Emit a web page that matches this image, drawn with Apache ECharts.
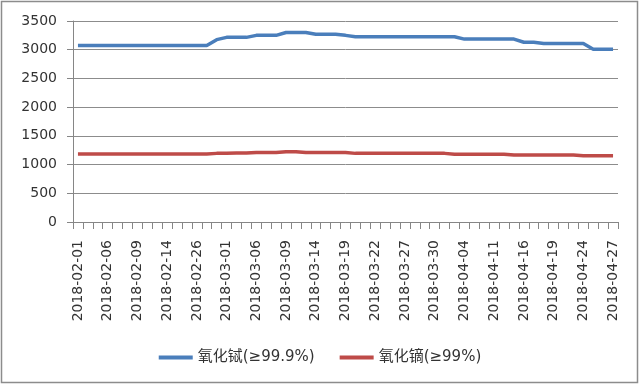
<!DOCTYPE html>
<html>
<head>
<meta charset="utf-8">
<script src="https://cdn.jsdelivr.net/npm/echarts@6/dist/echarts.min.js"></script>
<style>
html,body{margin:0;padding:0;background:#fff;}
#chart{width:640px;height:385px;}
</style>
</head>
<body>
<div id="chart"></div>
<script>
const dates = ['2018-02-01','2018-02-02','2018-02-05','2018-02-06','2018-02-07','2018-02-08','2018-02-09','2018-02-12','2018-02-13','2018-02-14','2018-02-22','2018-02-23','2018-02-26','2018-02-27','2018-02-28','2018-03-01','2018-03-02','2018-03-05','2018-03-06','2018-03-07','2018-03-08','2018-03-09','2018-03-12','2018-03-13','2018-03-14','2018-03-15','2018-03-16','2018-03-19','2018-03-20','2018-03-21','2018-03-22','2018-03-23','2018-03-26','2018-03-27','2018-03-28','2018-03-29','2018-03-30','2018-04-02','2018-04-03','2018-04-04','2018-04-09','2018-04-10','2018-04-11','2018-04-12','2018-04-13','2018-04-16','2018-04-17','2018-04-18','2018-04-19','2018-04-20','2018-04-23','2018-04-24','2018-04-25','2018-04-26','2018-04-27'];

const seriesNames = ['氧化铽(≥99.9%)', '氧化镝(≥99%)'];

const terbium = [3075,3075,3075,3075,3075,3075,3075,3075,3075,3075,3075,3075,3075,3075,
  3175,3215,3215,3215,3250,3250,3250,3300,3300,3300,3270,3270,3270,3250,
  3225,3225,3225,3225,3225,3225,3225,3225,3225,3225,3225,
  3185,3185,3185,3185,3185,3185,3130,3130,3110,3110,3110,3110,3110,3010,3010,3010];

const dysprosium = [1185,1185,1185,1185,1185,1185,1185,1185,1185,1185,1185,1185,1185,1185,
  1195,1195,1200,1200,1210,1210,1210,1225,1225,1210,1210,1210,1210,1210,
  1195,1195,1195,1195,1195,1195,1195,1195,1195,1195,
  1180,1180,1180,1180,1180,1180,1165,1165,1165,1165,1165,1165,1165,1155,1155,1155,1155];

const yTicks = {min: 0, max: 3500, interval: 500};

const chart = echarts.init(document.getElementById('chart'), null, {renderer: 'canvas'});
const fontFam = '"DejaVu Sans", "Noto Sans CJK SC", sans-serif';
chart.setOption({
  animation: false,
  backgroundColor: '#ffffff',
  graphic: [{
    type: 'rect',
    shape: {x: 1.5, y: 1.5, width: 636, height: 381},
    style: {fill: 'none', stroke: '#8c8c8c', lineWidth: 1.5},
    silent: true
  }],
  grid: {left: 73, right: 22, top: 21, height: 201, containLabel: false},
  legend: {
    data: seriesNames,
    left: 'center',
    top: 345,
    icon: 'rect',
    itemWidth: 34,
    itemHeight: 4,
    itemGap: 25,
    textStyle: {fontFamily: fontFam, fontSize: 15, color: '#333'}
  },
  xAxis: {
    type: 'category',
    data: dates,
    boundaryGap: true,
    axisLine: {lineStyle: {color: '#868686', width: 1}},
    axisTick: {show: true, interval: 0, length: 7, lineStyle: {color: '#868686'}},
    axisLabel: {interval: 2, rotate: 90, margin: 18, fontFamily: fontFam, fontSize: 14, color: '#333'},
    splitLine: {show: false}
  },
  yAxis: {
    type: 'value',
    min: yTicks.min, max: yTicks.max, interval: yTicks.interval,
    axisLine: {show: true, lineStyle: {color: '#868686', width: 1}},
    axisTick: {show: true, length: 6, lineStyle: {color: '#868686'}},
    axisLabel: {margin: 16, fontFamily: fontFam, fontSize: 14, color: '#333', formatter: function (v) { return String(v); }},
    splitLine: {show: true, lineStyle: {color: '#8c8c8c', width: 1}}
  },
  series: [
    {name: seriesNames[0], type: 'line', data: terbium, symbol: 'none', smooth: false,
     lineStyle: {color: '#4A7EBB', width: 3.5}, itemStyle: {color: '#4A7EBB'}},
    {name: seriesNames[1], type: 'line', data: dysprosium, symbol: 'none', smooth: false,
     lineStyle: {color: '#BE4B48', width: 3.5}, itemStyle: {color: '#BE4B48'}}
  ]
});
</script>
</body>
</html>
